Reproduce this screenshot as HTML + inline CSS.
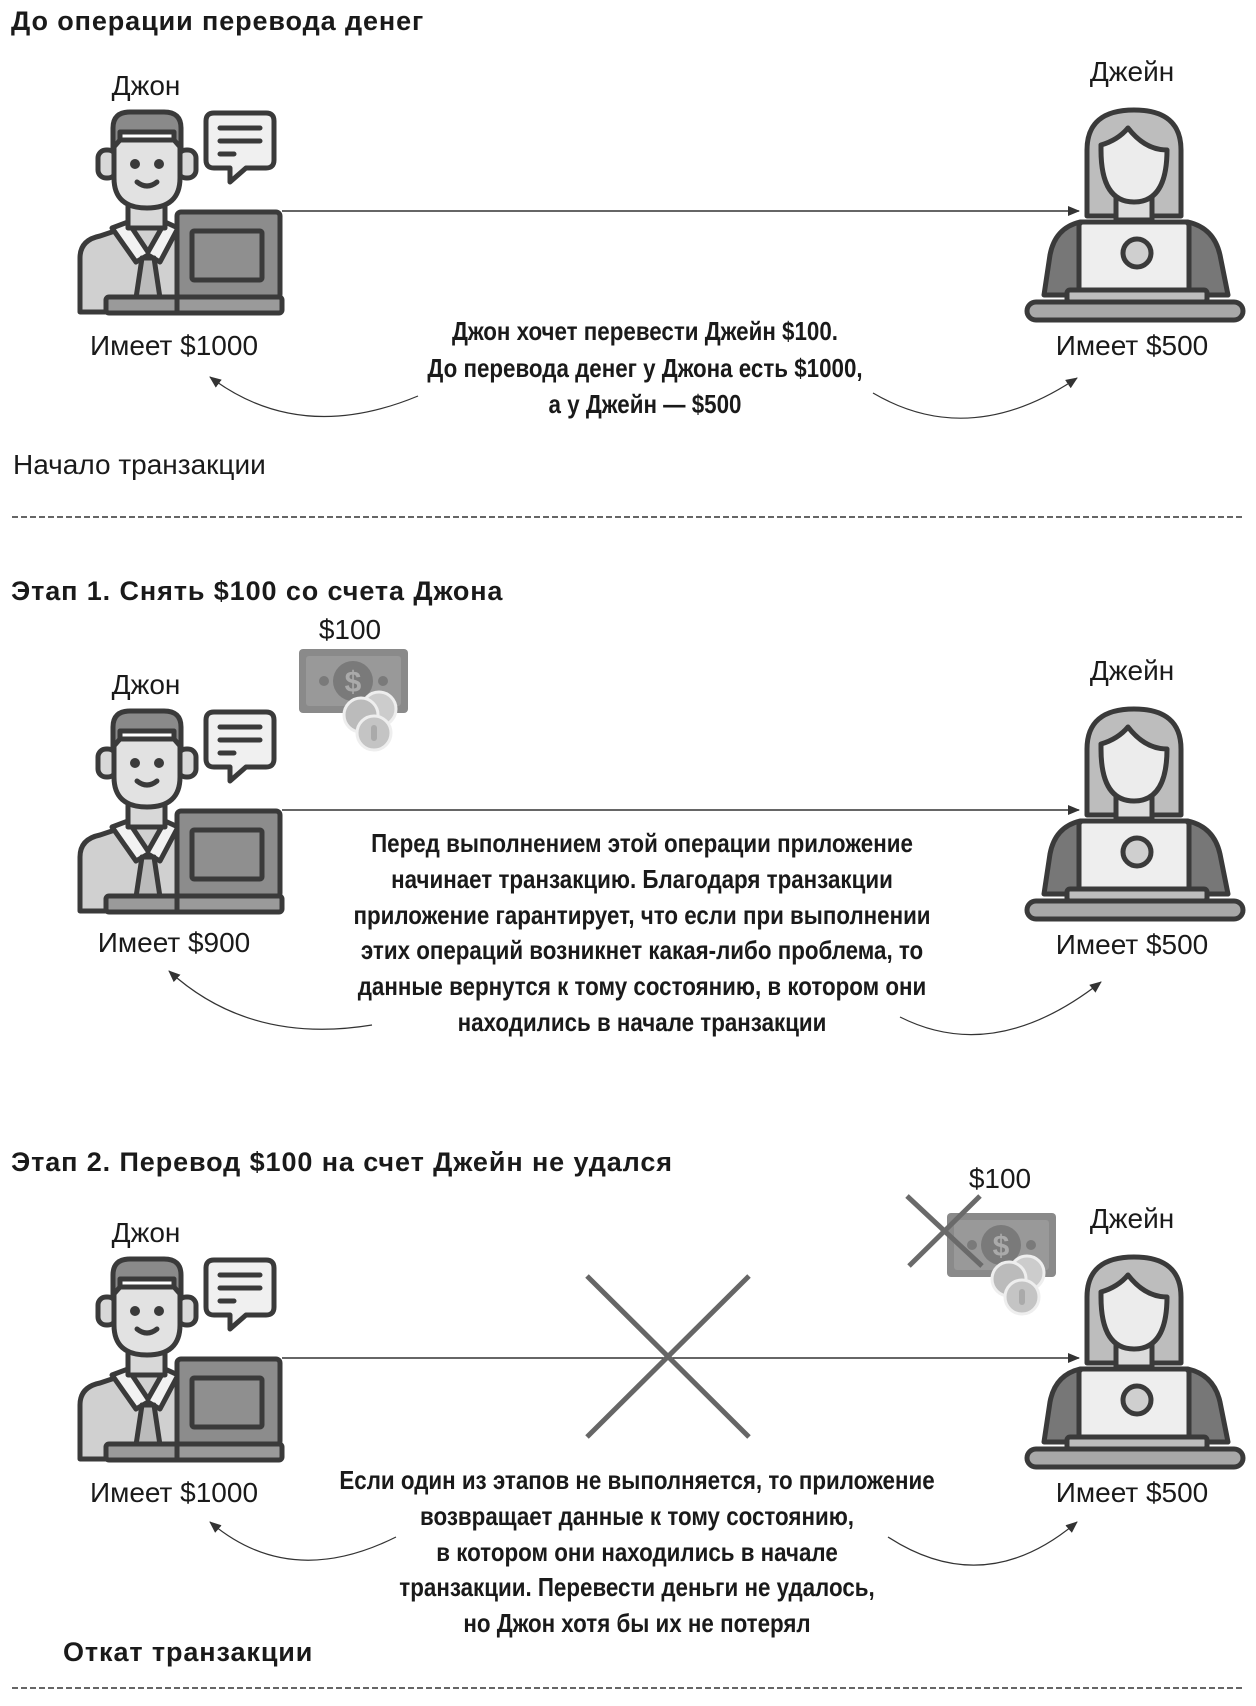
<!DOCTYPE html>
<html><head><meta charset="utf-8"><style>
html,body{margin:0;padding:0;background:#fff;}
svg{display:block;}
.b{font-family:"Liberation Sans",sans-serif;font-weight:bold;font-size:27px;letter-spacing:0.9px;fill:#1a1a1a;}
.r{font-family:"Liberation Sans",sans-serif;font-size:28px;fill:#1a1a1a;}
.c{font-family:"Liberation Sans",sans-serif;font-weight:bold;font-size:26px;fill:#1a1a1a;}
</style></head><body>
<svg width="1256" height="1706" viewBox="0 0 1256 1706" xmlns="http://www.w3.org/2000/svg">
<defs>
<marker id="ah" markerWidth="12" markerHeight="10" refX="11" refY="5" orient="auto" markerUnits="userSpaceOnUse">
<path d="M0,0 L12,5 L0,10 z" fill="#333"/></marker>
<g id="john" stroke="#3a3a3a" stroke-width="5" stroke-linejoin="round" stroke-linecap="round">
<path d="M80,312 L80,258 Q80,240 100,236 L130,226 L165,226 L178,232 L178,312 Z" fill="#d0d0d0"/>
<path d="M112,228 L128,222 L148,252 L165,222 L178,228 L160,262 L148,255 L136,262 Z" fill="#f2f2f2"/>
<path d="M142,258 L154,258 L160,298 L136,298 Z" fill="#bbb"/>
<rect x="128" y="200" width="37" height="28" fill="#d8d8d8"/>
<rect x="98" y="150" width="18" height="28" rx="8" fill="#d8d8d8"/>
<rect x="178" y="150" width="18" height="28" rx="8" fill="#d8d8d8"/>
<path d="M114,140 L114,178 Q114,208 147,208 Q180,208 180,178 L180,140 Z" fill="#e2e2e2"/>
<path d="M113,148 L113,128 Q113,112 130,112 L164,112 Q181,112 181,128 L181,148 L174,140 L174,132 L120,132 L120,140 Z" fill="#8a8a8a"/>
<circle cx="135" cy="164" r="2.5" fill="#333"/><circle cx="159" cy="164" r="2.5" fill="#333"/>
<path d="M137,182 Q147,190 157,182" fill="none"/>
<path d="M214,113 L266,113 Q274,113 274,121 L274,160 Q274,168 266,168 L246,168 L230,182 L230,168 L214,168 Q206,168 206,160 L206,121 Q206,113 214,113 Z" fill="#f0f0f0"/>
<path d="M220,128 L260,128 M220,141 L260,141 M220,154 L234,154" fill="none"/>
<rect x="177" y="212" width="103" height="86" rx="4" fill="#8c8c8c"/>
<rect x="192" y="231" width="70" height="49" rx="2" fill="#8f8f8f"/>
<rect x="106" y="297" width="176" height="16" rx="3" fill="#9a9a9a"/>
<path d="M177,297 L177,313" fill="none"/>
</g>
<g id="jane" stroke="#3a3a3a" stroke-width="5" stroke-linejoin="round" stroke-linecap="round">
<path d="M1087,216 L1087,150 Q1087,110 1134,110 Q1181,110 1181,150 L1181,216 Z" fill="#bdbdbd"/>
<path d="M1044,295 L1050,255 Q1055,228 1080,222 L1188,222 Q1214,228 1220,255 L1228,295 Z" fill="#777"/>
<rect x="1116" y="190" width="36" height="30" fill="#dcdcdc"/>
<path d="M1101,150 Q1101,202 1134,202 Q1167,202 1167,150 Q1145,150 1128,128 Q1118,140 1101,145 Z" fill="#ececec"/>
<rect x="1079" y="222" width="110" height="72" rx="4" fill="#eeeeee"/>
<circle cx="1137" cy="253" r="14" fill="#cfcfcf"/>
<rect x="1067" y="290" width="140" height="12" rx="3" fill="#bdbdbd"/>
<rect x="1027" y="302" width="216" height="18" rx="9" fill="#a8a8a8"/>
</g>
<g id="money">
<rect x="0" y="0" width="109" height="64" rx="4" fill="#8a8a8a"/>
<rect x="7" y="7" width="95" height="50" rx="3" fill="#999"/>
<circle cx="54" cy="32" r="20" fill="#7a7a7a"/>
<text x="54" y="43" text-anchor="middle" font-family="Liberation Sans,sans-serif" font-weight="bold" font-size="30" fill="#aaa">$</text>
<circle cx="25" cy="32" r="5" fill="#7a7a7a"/><circle cx="84" cy="32" r="5" fill="#7a7a7a"/>
<circle cx="80" cy="60" r="17" fill="#ccc" stroke="#eee" stroke-width="3"/>
<circle cx="62" cy="66" r="17" fill="#bbb" stroke="#eee" stroke-width="3"/>
<circle cx="75" cy="84" r="17" fill="#c4c4c4" stroke="#eee" stroke-width="3"/>
<rect x="72" y="76" width="6" height="16" rx="3" fill="#aaa"/>
</g>
</defs>

<!-- Section 1 -->
<text class="b" x="11" y="30">До операции перевода денег</text>
<text class="r" x="146" y="95" text-anchor="middle">Джон</text>
<text class="r" x="1132" y="81" text-anchor="middle">Джейн</text>
<use href="#john"/>
<use href="#jane"/>
<line x1="282" y1="211" x2="1079" y2="211" stroke="#333" stroke-width="1.6" marker-end="url(#ah)"/>
<text class="r" x="174" y="355" text-anchor="middle">Имеет $1000</text>
<text class="r" x="1132" y="355" text-anchor="middle">Имеет $500</text>
<g transform="translate(645,0) scale(0.86,1)">
<text class="c" x="0" y="340" text-anchor="middle">Джон хочет перевести Джейн $100.</text>
<text class="c" x="0" y="377" text-anchor="middle">До перевода денег у Джона есть $1000,</text>
<text class="c" x="0" y="413" text-anchor="middle">а у Джейн — $500</text>
</g>
<path d="M418,396 Q300,445 210,377" fill="none" stroke="#333" stroke-width="1.2" marker-end="url(#ah)"/>
<path d="M873,393 Q970,450 1077,378" fill="none" stroke="#333" stroke-width="1.2" marker-end="url(#ah)"/>
<text class="r" x="13" y="474">Начало транзакции</text>
<line x1="12" y1="517" x2="1244" y2="517" stroke="#333" stroke-width="1.4" stroke-dasharray="6,3"/>

<!-- Section 2 -->
<text class="b" x="11" y="600">Этап 1. Снять $100 со счета Джона</text>
<text class="r" x="350" y="639" text-anchor="middle">$100</text>
<use href="#money" x="299" y="649"/>
<g transform="translate(0,599)">
<text class="r" x="146" y="95" text-anchor="middle">Джон</text>
<text class="r" x="1132" y="81" text-anchor="middle">Джейн</text>
<use href="#john"/>
<use href="#jane"/>
<line x1="282" y1="211" x2="1079" y2="211" stroke="#333" stroke-width="1.6" marker-end="url(#ah)"/>
<text class="r" x="1132" y="355" text-anchor="middle">Имеет $500</text>
</g>
<text class="r" x="174" y="952" text-anchor="middle">Имеет $900</text>
<g transform="translate(642,0) scale(0.86,1)">
<text class="c" x="0" y="852" text-anchor="middle">Перед выполнением этой операции приложение</text>
<text class="c" x="0" y="888" text-anchor="middle">начинает транзакцию. Благодаря транзакции</text>
<text class="c" x="0" y="924" text-anchor="middle">приложение гарантирует, что если при выполнении</text>
<text class="c" x="0" y="959" text-anchor="middle">этих операций возникнет какая-либо проблема, то</text>
<text class="c" x="0" y="995" text-anchor="middle">данные вернутся к тому состоянию, в котором они</text>
<text class="c" x="0" y="1031" text-anchor="middle">находились в начале транзакции</text>
</g>
<path d="M372,1025 Q250,1045 169,971" fill="none" stroke="#333" stroke-width="1.2" marker-end="url(#ah)"/>
<path d="M900,1017 Q995,1065 1101,982" fill="none" stroke="#333" stroke-width="1.2" marker-end="url(#ah)"/>

<!-- Section 3 -->
<text class="b" x="11" y="1171">Этап 2. Перевод $100 на счет Джейн не удался</text>
<text class="r" x="1000" y="1188" text-anchor="middle">$100</text>
<use href="#money" x="947" y="1213"/>
<line x1="907" y1="1196" x2="982" y2="1266" stroke="#6a6a6a" stroke-width="5"/>
<line x1="980" y1="1196" x2="909" y2="1266" stroke="#6a6a6a" stroke-width="5"/>
<g transform="translate(0,1147)">
<text class="r" x="146" y="95" text-anchor="middle">Джон</text>
<text class="r" x="1132" y="81" text-anchor="middle">Джейн</text>
<use href="#john"/>
<use href="#jane"/>
<line x1="282" y1="211" x2="1079" y2="211" stroke="#333" stroke-width="1.6" marker-end="url(#ah)"/>
<text class="r" x="174" y="355" text-anchor="middle">Имеет $1000</text>
<text class="r" x="1132" y="355" text-anchor="middle">Имеет $500</text>
</g>
<line x1="587" y1="1276" x2="749" y2="1437" stroke="#666" stroke-width="5"/>
<line x1="749" y1="1276" x2="587" y2="1437" stroke="#666" stroke-width="5"/>
<g transform="translate(637,0) scale(0.86,1)">
<text class="c" x="0" y="1489" text-anchor="middle">Если один из этапов не выполняется, то приложение</text>
<text class="c" x="0" y="1525" text-anchor="middle">возвращает данные к тому состоянию,</text>
<text class="c" x="0" y="1561" text-anchor="middle">в котором они находились в начале</text>
<text class="c" x="0" y="1596" text-anchor="middle">транзакции. Перевести деньги не удалось,</text>
<text class="c" x="0" y="1632" text-anchor="middle">но Джон хотя бы их не потерял</text>
</g>
<path d="M396,1537 Q290,1590 210,1522" fill="none" stroke="#333" stroke-width="1.2" marker-end="url(#ah)"/>
<path d="M888,1537 Q985,1600 1077,1522" fill="none" stroke="#333" stroke-width="1.2" marker-end="url(#ah)"/>
<text class="b" x="63" y="1661">Откат транзакции</text>
<line x1="12" y1="1688" x2="1244" y2="1688" stroke="#333" stroke-width="1.4" stroke-dasharray="6,3"/>
</svg>
</body></html>
